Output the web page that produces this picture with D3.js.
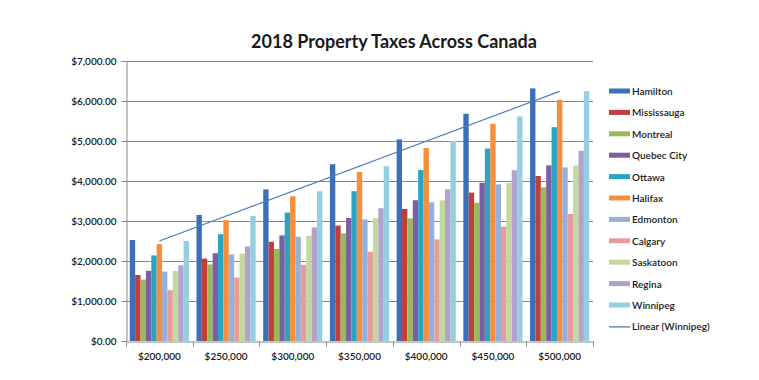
<!DOCTYPE html>
<html>
<head>
<meta charset="utf-8">
<script src="https://cdn.jsdelivr.net/npm/d3@7"></script>
<style>
  body { margin: 0; background: #fff; }
  svg text { font-family: Lato, "Liberation Sans", sans-serif; fill: #1a1a1a; }
</style>
</head>
<body>
<svg width="759" height="380"></svg>
<script>
// house values (categories)
var categories = ["$200,000", "$250,000", "$300,000", "$350,000", "$400,000", "$450,000", "$500,000"];
var cities = ["Hamilton", "Mississauga", "Montreal", "Quebec City", "Ottawa", "Halifax",
    "Edmonton", "Calgary", "Saskatoon", "Regina", "Winnipeg"];
var colors = ["#3b70b9", "#c13f3a", "#9aba59", "#7c5ea2", "#2aa4c3", "#f68e3c",
    "#93b1d9", "#e59d9c", "#c4d89d", "#b2a2cb", "#93cfdf"];

// tax per city, one value per category
var hamilton    = [2525, 3150, 3790, 4420, 5040, 5680, 6315];
var mississauga = [1650, 2060, 2480, 2885, 3300, 3710, 4125];
var montreal    = [1535, 1915, 2300, 2690, 3065, 3455, 3840];
var quebecCity  = [1755, 2195, 2640, 3075, 3520, 3955, 4390];
var ottawa      = [2140, 2670, 3210, 3745, 4275, 4810, 5345];
var halifax     = [2420, 3020, 3620, 4225, 4825, 5430, 6030];
var edmonton    = [1735, 2165, 2605, 3040, 3470, 3915, 4340];
var calgary     = [1270, 1585, 1905, 2230, 2540, 2860, 3175];
var saskatoon   = [1750, 2185, 2630, 3065, 3515, 3950, 4385];
var regina      = [1890, 2365, 2840, 3320, 3790, 4270, 4755];
var winnipeg    = [2500, 3125, 3745, 4370, 5000, 5615, 6245];

var series = [hamilton, mississauga, montreal, quebecCity, ottawa, halifax,
    edmonton, calgary, saskatoon, regina, winnipeg];

var yTicks = [0, 1000, 2000, 3000, 4000, 5000, 6000, 7000];

var svg = d3.select("svg");

var plotLeft = 126, plotRight = 593, plotTop = 61, plotBottom = 341;

var x0 = d3.scaleBand()
    .domain(categories)
    .range([plotLeft, plotRight])
    .padding(0);

var x1 = d3.scaleBand()
    .domain(cities)
    .range([0, x0.bandwidth()])
    .paddingInner(0)
    .paddingOuter(0.7);

var y = d3.scaleLinear()
    .domain([0, 7000])
    .range([plotBottom, plotTop]);

// title
svg.append("text")
    .attr("x", 394)
    .attr("y", 48)
    .attr("text-anchor", "middle")
    .style("font-size", "18px")
    .style("font-weight", "bold")
    .text("2018 Property Taxes Across Canada");

// gridlines
svg.append("g")
    .selectAll("line")
    .data(yTicks.slice(1))
    .enter()
    .append("line")
    .attr("x1", plotLeft)
    .attr("x2", plotRight)
    .attr("y1", function(d) { return Math.round(y(d)) + 0.5; })
    .attr("y2", function(d) { return Math.round(y(d)) + 0.5; })
    .attr("stroke", "#8a8a8a")
    .attr("stroke-width", 1);

// bars
var groups = svg.append("g")
    .selectAll("g")
    .data(series)
    .enter()
    .append("g")
    .attr("fill", function(d, i) { return colors[i]; });

groups.selectAll("rect")
    .data(function(d, i) {
        return d.map(function(v, j) { return { city: cities[i], cat: categories[j], value: v }; });
    })
    .enter()
    .append("rect")
    .attr("x", function(d) { return x0(d.cat) + x1(d.city); })
    .attr("width", x1.bandwidth())
    .attr("y", function(d) { return y(d.value); })
    .attr("height", function(d) { return y(0) - y(d.value); });

// y axis
var yAxis = svg.append("g")
    .attr("transform", "translate(" + (plotLeft + 0.5) + ",0)")
    .call(d3.axisLeft(y)
        .tickValues(yTicks)
        .tickSize(5)
        .tickPadding(5)
        .tickFormat(function(d) { return "$" + d3.format(",.2f")(d); }));

yAxis.select(".domain").attr("stroke", "#8a8a8a");
yAxis.selectAll(".tick line").attr("stroke", "#8a8a8a");
yAxis.selectAll("text")
    .style("font-size", "10px")
    .style("font-weight", "600")
    .attr("fill", "#1a1a1a");

// x axis
var xAxis = svg.append("g")
    .attr("transform", "translate(0," + (plotBottom + 0.5) + ")")
    .call(d3.axisBottom(x0).tickSize(0).tickPadding(11));

xAxis.select(".domain").attr("stroke", "#8a8a8a");
xAxis.selectAll("text")
    .style("font-size", "10px")
    .style("font-weight", "600")
    .attr("fill", "#1a1a1a");

// separator ticks between categories
xAxis.append("g")
    .selectAll("line")
    .data(categories.concat(["end"]))
    .enter()
    .append("line")
    .attr("x1", function(d, i) { return Math.round(plotLeft + i * x0.step()) + 0.5; })
    .attr("x2", function(d, i) { return Math.round(plotLeft + i * x0.step()) + 0.5; })
    .attr("y1", 0)
    .attr("y2", 5)
    .attr("stroke", "#8a8a8a");

// linear trend for Winnipeg (least squares over category index)
var n = winnipeg.length;
var mx = d3.mean(d3.range(n));
var my = d3.mean(winnipeg);
var slope = d3.sum(winnipeg, function(v, i) { return (i - mx) * (v - my); }) /
    d3.sum(d3.range(n), function(i) { return (i - mx) * (i - mx); });
var icpt = my - slope * mx;

svg.append("line")
    .attr("x1", x0(categories[0]) + x0.bandwidth() / 2)
    .attr("x2", x0(categories[n - 1]) + x0.bandwidth() / 2)
    .attr("y1", y(icpt))
    .attr("y2", y(icpt + slope * (n - 1)))
    .attr("stroke", "#4a7ebb")
    .attr("stroke-width", 1.3);

// legend
var legend = svg.append("g")
    .attr("transform", "translate(609,91)");

var items = legend.selectAll("g")
    .data(cities.concat(["Linear (Winnipeg)"]))
    .enter()
    .append("g")
    .attr("transform", function(d, i) { return "translate(0," + (i * 21.4) + ")"; });

items.each(function(d, i) {
    var g = d3.select(this);
    if (i < cities.length) {
        g.append("rect")
            .attr("x", 0)
            .attr("y", -2.5)
            .attr("width", 21)
            .attr("height", 5)
            .attr("fill", colors[i]);
    } else {
        g.append("line")
            .attr("x1", 0)
            .attr("x2", 21)
            .attr("y1", 0.5)
            .attr("y2", 0.5)
            .attr("stroke", "#4a7ebb")
            .attr("stroke-width", 1.3);
    }
    g.append("text")
        .attr("x", 23)
        .attr("y", 4)
        .style("font-size", "10px")
        .style("font-weight", "600")
        .text(d);
});
</script>
</body>
</html>
